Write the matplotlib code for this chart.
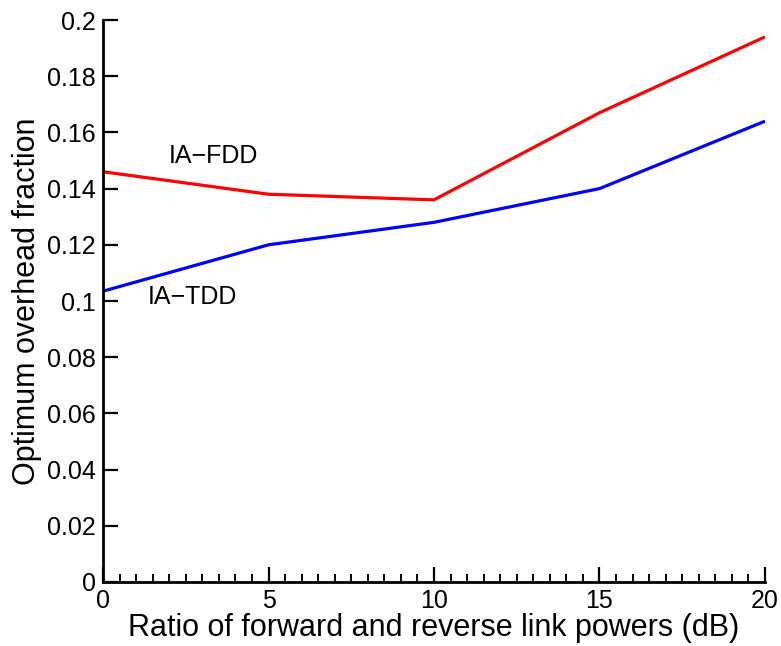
import matplotlib.pyplot as plt
from matplotlib.ticker import MultipleLocator

plt.rcParams['font.family'] = ['Liberation Sans', 'DejaVu Sans']

# power ratio (dB)
ratio_db = [0, 5, 10, 15, 20]
# optimum overhead fraction
fdd = [0.146, 0.138, 0.136, 0.167, 0.194]
tdd = [0.1035, 0.120, 0.128, 0.140, 0.164]
yticks = [0, 0.02, 0.04, 0.06, 0.08, 0.1, 0.12, 0.14, 0.16, 0.18, 0.2]
ytick_labels = ['0', '0.02', '0.04', '0.06', '0.08', '0.1', '0.12', '0.14', '0.16', '0.18', '0.2']

fig = plt.figure(figsize=(7.81, 6.46), dpi=100)
ax = fig.add_axes([0.1319, 0.0991, 0.8476, 0.8699])

ax.plot(ratio_db, fdd, color='#ff0000', linewidth=2.3, solid_capstyle='butt')
ax.plot(ratio_db, tdd, color='#0000ff', linewidth=2.3, solid_capstyle='butt')

ax.text(2.0, 0.1515, 'IA\u2212FDD', fontsize=18, va='center', ha='left')
ax.text(1.36, 0.1015, 'IA\u2212TDD', fontsize=18, va='center', ha='left')

ax.set_xlim(0, 20)
ax.set_ylim(0, 0.2)
ax.xaxis.set_major_locator(MultipleLocator(5))
ax.xaxis.set_minor_locator(MultipleLocator(0.5))
ax.set_yticks(yticks)
ax.set_yticklabels(ytick_labels)

for s in ['top', 'right']:
    ax.spines[s].set_visible(False)
for s in ['left', 'bottom']:
    ax.spines[s].set_linewidth(2.0)

ax.tick_params(axis='both', which='major', direction='in', length=11, width=1.6,
               labelsize=18, pad=5)
ax.tick_params(axis='x', which='minor', direction='in', length=6, width=1.4)

ax.set_xlabel('Ratio of forward and reverse link powers (dB)', fontsize=22, labelpad=0)
ax.set_ylabel('Optimum overhead fraction', fontsize=22, labelpad=4)

fig.savefig('out.png', dpi=100)
